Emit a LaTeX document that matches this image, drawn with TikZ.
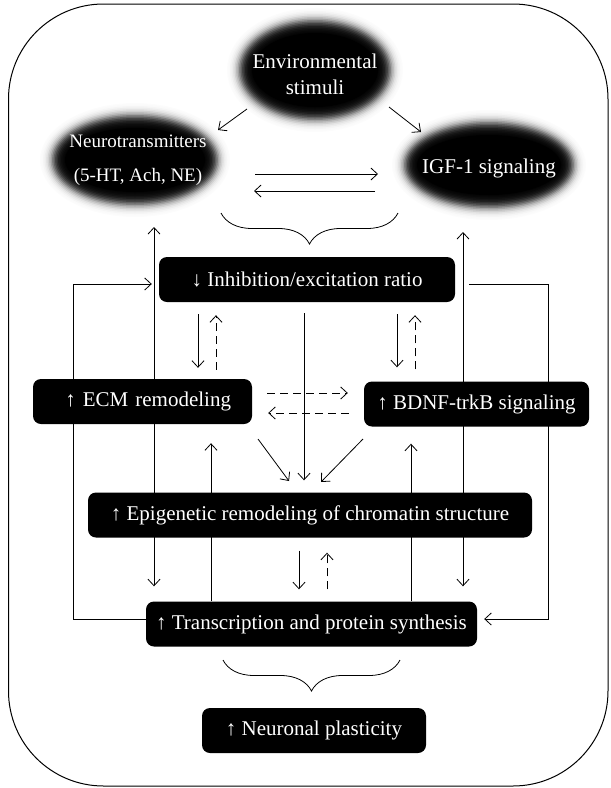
\documentclass[tikz,border=0pt]{standalone}
\usepackage{fontspec}
\setmainfont{Liberation Serif}
\usetikzlibrary{arrows.meta,decorations.pathreplacing,shapes.geometric}
\pgfdeclarelayer{bg}
\pgfsetlayers{bg,main}
\newcommand\boxfnt{\fontsize{21}{26}\selectfont}
\newcommand\ntfnt{\fontsize{19}{34}\selectfont}
\newcommand\blobfill[4]{%
  \foreach \i in {0,...,16}{%
    \pgfmathtruncatemacro\shd{100/(1+exp(-(-12+1.5*\i)/3))}%
    \pgfmathsetmacro\ra{#3-1.5*\i}%
    \pgfmathsetmacro\rb{#4-1.5*\i}%
    \fill[black!\shd] (#1,#2) ellipse [x radius=\ra pt, y radius=\rb pt];
  }%
  \pgfmathsetmacro\ra{#3-25}%
  \pgfmathsetmacro\rb{#4-25}%
  \fill[black] (#1,#2) ellipse [x radius=\ra pt, y radius=\rb pt];
}
\tikzset{
  box/.style={rectangle, rounded corners=8pt, fill=black, text=white, inner sep=0pt, font=\boxfnt, minimum height=45pt},
  blobtext/.style={ellipse, inner sep=0pt, text=white, align=center},
  arr/.style={-{Straight Barb[length=6.5pt,width=12pt]}, line width=0.8pt},
  arrboth/.style={{Straight Barb[length=6.5pt,width=12pt]}-{Straight Barb[length=6.5pt,width=12pt]}, line width=0.8pt},
  dsh/.style={dash pattern=on 8pt off 5pt},
  brc/.style={decorate, decoration={brace, amplitude=31pt}, line width=0.8pt},
}
\begin{document}
\begin{tikzpicture}[x=1pt,y=-1pt]
\useasboundingbox (0,0) rectangle (611,788);

\node[blobtext, font=\boxfnt] (env) at (315,74) {Environmental\\stimuli};
\node[blobtext, font=\ntfnt] (nt) at (138,160) {Neurotransmitters\\(5-HT, Ach, NE)};
\node[blobtext, font=\boxfnt] (igf) at (489,168) {IGF-1 signaling};

% boxes
\node[box, minimum width=296pt] (inh) at (307,279.5) {↓ Inhibition/excitation ratio};
\node[box, minimum width=219pt, text width=177pt, align=right, inner xsep=21pt] (ecm) at (142.5,401.5) {↑ ECM remodeling};
\node[box, minimum width=225pt] (bdnf) at (476.5,404) {↑ BDNF-trkB signaling};
\node[box, minimum width=444pt] (epi) at (310,515) {↑ Epigenetic remodeling of chromatin structure};
\node[box, minimum width=331pt] (trans) at (311.5,624) {↑ Transcription and protein synthesis};
\node[box, minimum width=224pt] (neur) at (314,730.5) {↑ Neuronal plasticity};

% free ends
\coordinate (e1) at (247,109);
\coordinate (e2) at (218,130);
\coordinate (e3) at (389,107);
\coordinate (e4) at (421,132);
\coordinate (h1) at (255,174);
\coordinate (h2) at (378,174);
\coordinate (h3) at (375,191);
\coordinate (h4) at (254,191);
\coordinate (d1) at (258,439);
\coordinate (d2) at (289,481);
\coordinate (d3) at (363,439);
\coordinate (d4) at (321,482);
\coordinate (ntbot) at (154,227);
\coordinate (igfbot) at (463,232);

\begin{pgfonlayer}{bg}
% blurred ellipses
\blobfill{315}{70}{88}{62}
\blobfill{135}{160}{95}{57}
\blobfill{489}{165}{97}{55}

\draw[line width=1pt, rounded corners=95pt] (8.5,4) rectangle (608,786);

\draw[arr] (e1) -- (e2);
\draw[arr] (e3) -- (e4);
\draw[arr] (h1) -- (h2);
\draw[arr] (h3) -- (h4);

\draw[brc] (398,213) -- (221,213);
\draw[brc] (400,660) -- (223,660);

% long double arrows
\draw[arrboth, shorten <=15pt] (trans.north -| 154,0) -- (ntbot);
\draw[arrboth, shorten <=15pt] (trans.north -| 463,0) -- (igfbot);

% feedback loops
\draw[arr, shorten >=7pt] (trans.west |- 0,619) -| (73,284) -- (inh.west |- 0,284);
\draw[arr, shorten <=14pt, shorten >=7pt] (inh.east |- 0,284) -| (548,619) -- (trans.east |- 0,619);

% inh <-> ecm / bdnf
\draw[arr, shorten <=12pt, shorten >=11pt] (inh.south -| 198,0) -- (ecm.north -| 198,0);
\draw[arr, dsh, shorten <=9pt, shorten >=13pt] (ecm.north -| 216,0) -- (inh.south -| 216,0);
\draw[arr, shorten <=12pt, shorten >=14pt] (inh.south -| 397,0) -- (bdnf.north -| 397,0);
\draw[arr, dsh, shorten <=12pt, shorten >=13pt] (bdnf.north -| 415,0) -- (inh.south -| 415,0);

% ecm <-> bdnf
\draw[arr, dsh, shorten <=15pt, shorten >=16pt] (ecm.east |- 0,393) -- (bdnf.west |- 0,393);
\draw[arr, dsh, shorten <=15pt, shorten >=16pt] (bdnf.west |- 0,413) -- (ecm.east |- 0,413);

% to epi
\draw[arr, shorten <=11pt, shorten >=12pt] (inh.south -| 304,0) -- (epi.north -| 304,0);
\draw[arr] (d1) -- (d2);
\draw[arr] (d3) -- (d4);

% trans -> ecm / bdnf
\draw[arr, shorten >=19pt] (trans.north -| 211,0) -- (ecm.south -| 211,0);
\draw[arr, shorten >=17pt] (trans.north -| 411,0) -- (bdnf.south -| 411,0);

% epi <-> trans
\draw[arr, shorten <=13pt, shorten >=12pt] (epi.south -| 299,0) -- (trans.north -| 299,0);
\draw[arr, dsh, shorten <=12pt, shorten >=15pt] (trans.north -| 327,0) -- (epi.south -| 327,0);
\end{pgfonlayer}
\end{tikzpicture}
\end{document}
